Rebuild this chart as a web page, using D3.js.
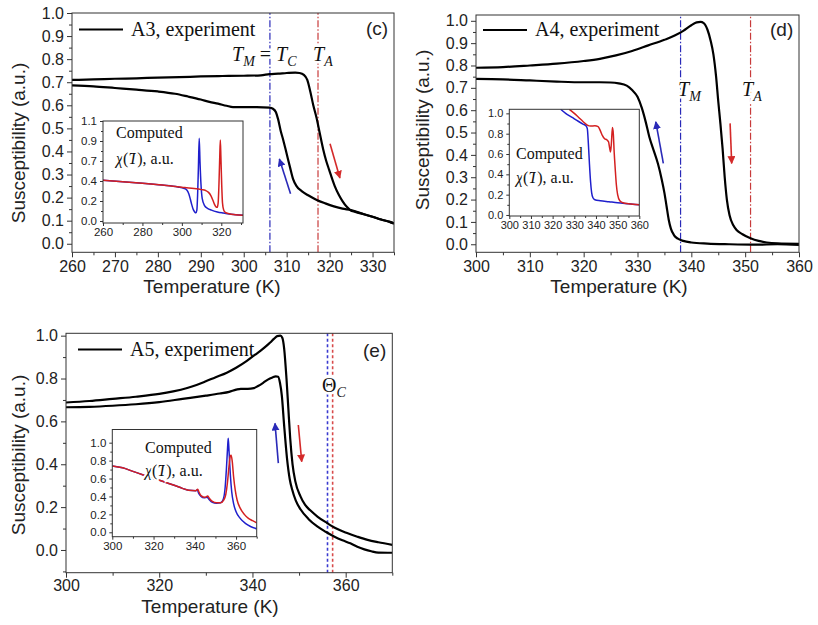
<!DOCTYPE html>
<html><head><meta charset="utf-8">
<script src="https://cdn.jsdelivr.net/npm/d3@7"></script>
<style>
body{margin:0;background:#fff}
svg{display:block}
.tick text{font-family:"Liberation Sans",Arial,sans-serif;fill:#222}
.tick line{stroke:#333}
</style></head><body><svg id="chart" width="818" height="625"></svg>
<script>
// ---- panel (c) A3 ----
var cUpper=[[260,0.71],[265,0.712],[270,0.715],[275,0.717],[280,0.72],[285,0.722],[290,0.725],[295,0.727],[300,0.728],[304,0.73],[306,0.735],[308,0.737],[310,0.74],[312,0.742],[313,0.74],[314,0.732],[314.8,0.71],[315.5,0.66],[316.2,0.6],[316.9,0.55],[317.7,0.48],[318.5,0.41],[319.2,0.36],[319.9,0.32],[321.2,0.25],[322.2,0.21],[323,0.185],[324,0.16],[324.8,0.146],[326,0.138],[328,0.128],[330,0.117],[332,0.105],[334,0.095],[335,0.088]];
var cLower=[[260,0.686],[265,0.682],[270,0.675],[275,0.668],[280,0.66],[284,0.65],[287,0.638],[290,0.625],[292,0.615],[294,0.607],[296,0.598],[297.5,0.592],[300,0.592],[303,0.592],[306,0.59],[306.8,0.585],[307.5,0.57],[308,0.54],[308.6,0.49],[309.2,0.45],[310,0.39],[310.8,0.33],[311.5,0.28],[312.3,0.25],[313.5,0.228],[315,0.21],[317,0.19],[319,0.175],[321,0.162],[323,0.152],[325,0.146],[328,0.128],[330,0.117],[332,0.105],[334,0.095],[335,0.088]];
var cInsetRed=[[260,0.447],[270,0.432],[280,0.415],[290,0.395],[300,0.372],[305,0.36],[310,0.345],[312,0.335],[313.5,0.315],[314.7,0.28],[315.7,0.23],[316.5,0.185],[317.3,0.155],[317.9,0.15],[318.4,0.2],[318.8,0.4],[319.2,0.7],[319.5,0.89],[319.8,0.7],[320.2,0.4],[320.6,0.2],[321.2,0.12],[322,0.095],[324,0.08],[327,0.07],[331,0.062]];
var cInsetBlue=[[260,0.447],[270,0.432],[280,0.415],[290,0.395],[298,0.375],[301,0.36],[302.5,0.34],[303.5,0.3],[304.3,0.24],[305,0.18],[305.8,0.125],[306.5,0.1],[307.1,0.09],[307.6,0.12],[308,0.3],[308.4,0.6],[308.8,0.91],[309.2,0.65],[309.7,0.4],[310.3,0.25],[311.5,0.17],[313,0.14],[315,0.12],[318,0.1],[321,0.088],[325,0.075],[331,0.062]];
var cTM=306.1, cTA=317.3;
var cArrowBlue=[[310.9,0.217],[308.3,0.367]];
var cArrowRed=[[320.1,0.433],[322.4,0.285]];

// ---- panel (d) A4 ----
var dUpper=[[300,0.79],[305,0.793],[310,0.8],[315,0.808],[320,0.82],[323,0.83],[326,0.845],[329,0.865],[332,0.89],[335,0.915],[337,0.935],[338.5,0.955],[340,0.98],[341,0.993],[341.7,0.995],[342.3,0.99],[343,0.96],[343.6,0.91],[344.1,0.85],[344.6,0.75],[345,0.64],[345.4,0.54],[345.8,0.43],[346.2,0.3],[346.6,0.2],[347.1,0.13],[347.8,0.085],[348.4,0.064],[349.5,0.045],[351,0.027],[352.5,0.015],[354,0.008],[356,0.004],[360,0.002]];
var dLower=[[300,0.74],[305,0.738],[310,0.733],[315,0.728],[320,0.725],[323,0.725],[325,0.724],[326.5,0.72],[328,0.71],[329,0.69],[330,0.66],[330.8,0.61],[331.5,0.55],[332.2,0.48],[333,0.42],[333.8,0.36],[334.5,0.29],[335,0.23],[335.4,0.17],[335.8,0.11],[336.2,0.07],[336.8,0.04],[337.5,0.025],[338.5,0.015],[340,0.008],[343,0.003],[347,0.0],[352,-0.002],[356,0],[360,-0.003]];
var dInsetRed=[[327.7,1.04],[330,1.0],[332,0.96],[334,0.92],[336,0.885],[337.5,0.875],[339.5,0.878],[341,0.87],[342,0.83],[343,0.78],[344,0.75],[345,0.74],[345.8,0.72],[346.3,0.66],[346.7,0.62],[347.1,0.7],[347.6,0.86],[348,0.8],[348.4,0.62],[348.9,0.45],[349.4,0.3],[350,0.2],[351,0.14],[352.5,0.12],[355,0.11],[360,0.1]];
var dInsetBlue=[[323.7,1.04],[326,1.0],[329,0.96],[332,0.92],[334,0.895],[335.3,0.88],[336,0.85],[336.5,0.7],[337,0.5],[337.5,0.33],[338,0.22],[338.6,0.17],[339.5,0.15],[342,0.14],[346,0.13],[350,0.12],[355,0.11],[360,0.1]];
var dTM=338.0, dTA=351.0;
var dArrowBlue=[[334.8,0.362],[333.4,0.548]];
var dArrowRed=[[347.2,0.541],[347.5,0.362]];

// ---- panel (e) A5 ----
var eUpper=[[300,0.688],[305,0.695],[310,0.705],[315,0.715],[320,0.728],[323,0.74],[326,0.756],[328,0.77],[330,0.787],[332,0.805],[334.5,0.827],[336.5,0.85],[338.8,0.882],[340.5,0.91],[341.7,0.929],[343,0.952],[343.8,0.968],[344.6,0.985],[345.3,0.998],[346,1.0],[346.4,0.99],[346.8,0.94],[347.3,0.8],[347.7,0.66],[348.1,0.52],[348.6,0.4],[349.2,0.32],[350.3,0.25],[351.3,0.21],[352.4,0.185],[354,0.155],[356,0.126],[358,0.1],[360.3,0.079],[362.5,0.062],[364.7,0.047],[367,0.036],[370,0.024]];
var eLower=[[300,0.666],[305,0.668],[310,0.673],[315,0.68],[320,0.69],[325,0.705],[330,0.72],[333,0.73],[335,0.738],[336.5,0.748],[337.5,0.752],[339,0.752],[340.3,0.755],[341.2,0.765],[342.3,0.78],[343.3,0.795],[344.3,0.805],[345,0.81],[345.5,0.808],[345.9,0.78],[346.3,0.72],[346.8,0.58],[347.4,0.43],[348,0.33],[348.5,0.283],[349.3,0.23],[350.3,0.19],[352,0.145],[353.9,0.11],[355.7,0.085],[357.5,0.063],[359.3,0.045],[361,0.031],[362.5,0.015],[364,0.003],[365.5,-0.006],[367,-0.012],[370,-0.013]];
var eInsetBlue=[[300,0.74],[305,0.72],[310,0.68],[315,0.64],[320,0.6],[325,0.565],[330,0.525],[334,0.49],[337,0.47],[340.5,0.465],[341.2,0.475],[341.8,0.44],[343,0.4],[344.5,0.385],[346,0.39],[346.8,0.37],[348.5,0.335],[350.5,0.325],[352.5,0.33],[353.8,0.37],[354.7,0.5],[355.3,0.7],[355.9,0.95],[356.2,1.05],[356.6,0.9],[357.2,0.65],[357.9,0.45],[358.8,0.32],[360,0.23],[362,0.155],[364.5,0.1],[367,0.065],[370,0.04]];
var eInsetRed=[[300,0.74],[305,0.72],[310,0.68],[315,0.64],[320,0.6],[325,0.565],[330,0.525],[334,0.49],[337,0.47],[340.5,0.465],[341.4,0.48],[342,0.45],[343,0.41],[345,0.39],[346.3,0.405],[347,0.38],[348.5,0.345],[350.5,0.33],[352.5,0.33],[354,0.36],[355,0.42],[355.8,0.55],[356.5,0.72],[357.2,0.85],[357.6,0.86],[358.1,0.8],[358.8,0.62],[359.6,0.47],[360.5,0.36],[362,0.27],[364,0.2],[366,0.155],[368,0.13],[370,0.105]];
var eThetaBlue=356.1, eThetaRed=357.2;
var eArrowBlue=[[345.55,0.405],[344.84,0.591]];
var eArrowRed=[[349.84,0.583],[350.57,0.412]];

// ---- tick values ----
var cXTicks=[260,270,280,290,300,310,320,330], cXMinor=[265,275,285,295,305,315,325,335];
var cYTicks=[0,0.1,0.2,0.3,0.4,0.5,0.6,0.7,0.8,0.9,1.0], cYMinor=[0.05,0.15,0.25,0.35,0.45,0.55,0.65,0.75,0.85,0.95];
var dXTicks=[300,310,320,330,340,350,360], dXMinor=[305,315,325,335,345,355];
var dYTicks=[0,0.1,0.2,0.3,0.4,0.5,0.6,0.7,0.8,0.9,1.0], dYMinor=[0.05,0.15,0.25,0.35,0.45,0.55,0.65,0.75,0.85,0.95];
var eXTicks=[300,320,340,360], eXMinor=[310,330,350,370];
var eYTicks=[0,0.2,0.4,0.6,0.8,1.0], eYMinor=[-0.1,0.1,0.3,0.5,0.7,0.9];
var ciXTicks=[260,280,300,320], ciXMinor=[270,290,310,330];
var ciYTicks=[0,0.22,0.44,0.66,0.88,1.1], ciYMinor=[0.11,0.33,0.55,0.77,0.99];
var diXTicks=[300,310,320,330,340,350,360], diXMinor=[305,315,325,335,345,355];
var diYTicks=[0,0.2,0.4,0.6,0.8,1.0], diYMinor=[0.1,0.3,0.5,0.7,0.9];
var eiXTicks=[300,320,340,360], eiXMinor=[310,330,350,370];
var eiYTicks=[0,0.2,0.4,0.6,0.8,1.0], eiYMinor=[0.1,0.3,0.5,0.7,0.9];

var BLUE="#2a2ab8", RED="#d42a2a";
var svg=d3.select("#chart");
var defs=svg.append("defs");
[["arrBlue",BLUE],["arrRed",RED]].forEach(function(m){
  defs.append("marker").attr("id",m[0]).attr("viewBox","0 0 10 10")
    .attr("refX",9).attr("refY",5).attr("markerWidth",5).attr("markerHeight",5)
    .attr("orient","auto").attr("markerUnits","strokeWidth")
    .append("path").attr("d","M0,0L10,5L0,10z").attr("fill",m[1]);
});

function frame(p){
  var x=d3.scaleLinear().domain(p.xDom).range([p.x0,p.x1]);
  var y=d3.scaleLinear().domain(p.yDom).range([p.y1,p.y0]);
  var g=svg.append("g");
  g.append("rect").attr("x",p.x0).attr("y",p.y0).attr("width",p.x1-p.x0).attr("height",p.y1-p.y0).attr("fill","#fff");
  defs.append("clipPath").attr("id","clip"+p.name).append("rect")
    .attr("x",p.x0).attr("y",p.y0).attr("width",p.x1-p.x0).attr("height",p.y1-p.y0);
  var ax=g.append("g");
  ax.append("g").attr("transform","translate(0,"+p.y1+")")
    .call(d3.axisBottom(x).tickValues(p.xMinor).tickSize(p.minor).tickSizeOuter(0).tickFormat(""));
  ax.append("g").attr("transform","translate(0,"+p.y1+")")
    .call(d3.axisBottom(x).tickValues(p.xTicks).tickSize(p.major).tickSizeOuter(0).tickPadding(p.padX).tickFormat(d3.format("d")));
  ax.append("g").attr("transform","translate("+p.x0+",0)")
    .call(d3.axisLeft(y).tickValues(p.yMinor).tickSize(p.minor).tickSizeOuter(0).tickFormat(""));
  ax.append("g").attr("transform","translate("+p.x0+",0)")
    .call(d3.axisLeft(y).tickValues(p.yTicks).tickSize(p.major).tickSizeOuter(0).tickPadding(p.padY).tickFormat(d3.format(".1f")));
  ax.selectAll(".domain").remove();
  ax.selectAll(".tick text").filter(function(){return this.textContent==="";}).remove();
  ax.selectAll(".tick text").style("font-size",p.fs+"px");
  var body=g.append("g").attr("clip-path","url(#clip"+p.name+")");
  g.append("rect").attr("x",p.x0).attr("y",p.y0).attr("width",p.x1-p.x0).attr("height",p.y1-p.y0)
    .attr("fill","none").attr("stroke","#333").attr("stroke-width",1);
  return {x:x,y:y,g:g,body:body};
}

function curve(f,data,color,w){
  var line=d3.line().x(function(d){return f.x(d[0]);}).y(function(d){return f.y(d[1]);}).curve(d3.curveMonotoneX);
  f.body.append("path").attr("d",line(data)).attr("fill","none").attr("stroke",color)
    .attr("stroke-width",w).attr("stroke-linejoin","round");
}
function vline(f,t,color,dash,w){
  f.body.append("line").attr("x1",f.x(t)).attr("x2",f.x(t)).attr("y1",f.y.range()[0]).attr("y2",f.y.range()[1])
    .attr("stroke",color).attr("stroke-width",w).attr("stroke-dasharray",dash);
}
function arrow(f,pts,color,mk){
  f.g.append("line").attr("x1",f.x(pts[0][0])).attr("y1",f.y(pts[0][1]))
    .attr("x2",f.x(pts[1][0])).attr("y2",f.y(pts[1][1]))
    .attr("stroke",color).attr("stroke-width",1.6).attr("marker-end","url(#"+mk+")");
}
function legend(f,x0,y0,label){
  f.g.append("line").attr("x1",x0).attr("x2",x0+44).attr("y1",y0).attr("y2",y0).attr("stroke","#000").attr("stroke-width",2.2);
  f.g.append("text").attr("x",x0+52).attr("y",y0+6).text(label)
    .style("font-family","'Liberation Serif','Times New Roman',serif").style("font-size","20px").attr("fill","#111");
}
function sans(x0,y0,txt,size,anchor){
  return svg.append("text").attr("x",x0).attr("y",y0).text(txt).attr("text-anchor",anchor||"start")
    .style("font-family","'Liberation Sans',Arial,sans-serif").style("font-size",size+"px").attr("fill","#222");
}
function titles(cx,by,ycx,ycy){
  sans(cx,by,"Temperature (K)",19,"middle");
  sans(0,0,"Susceptibility (a.u.)",19,"middle").attr("transform","translate("+ycx+","+ycy+") rotate(-90)");
}
function computed(x0,y0,y1){
  var t1=svg.append("text").attr("x",x0).attr("y",y0).text("Computed");
  var t2=svg.append("text").attr("x",x0).attr("y",y1);
  t2.append("tspan").style("font-style","italic").text("χ");
  t2.append("tspan").text("(");
  t2.append("tspan").style("font-style","italic").text("T");
  t2.append("tspan").text("), a.u.");
  [t1,t2].forEach(function(t){
    t.style("font-family","'Liberation Serif','Times New Roman',serif").style("font-size","16px").attr("fill","#111")
     .attr("stroke","#fff").attr("stroke-width",4).attr("paint-order","stroke");
  });
}
function tLabel(x0,y0,parts){
  var t=svg.append("text").attr("x",x0).attr("y",y0)
    .style("font-family","'Liberation Serif','Times New Roman',serif").style("font-size","20px").attr("fill","#111")
    .attr("stroke","#fff").attr("stroke-width",5).attr("paint-order","stroke");
  var back=0;
  parts.forEach(function(p){
    t.append("tspan").attr("dy",-back).style("font-style",p[2]?"italic":"normal").text(p[0]);
    back=0;
    if(p[1]){
      t.append("tspan").attr("dy",5).style("font-size","14px").style("font-style","italic").text(p[1]);
      back=5;
    }
  });
  return t;
}

// ===== panel (c) =====
var fc=frame({name:"c",x0:72,x1:394,y0:13,y1:252.3,xDom:[260,335],yDom:[-0.037,1.0],
  xTicks:cXTicks,xMinor:cXMinor,yTicks:cYTicks,yMinor:cYMinor,major:5,minor:3,padX:3,padY:3,fs:16});
vline(fc,cTM,BLUE,"7,2,1.5,2",1.2);
vline(fc,cTA,"#c83a3a","7,2,1.5,2",1.2);
curve(fc,cUpper,"#000",2.2);
curve(fc,cLower,"#000",2.2);
arrow(fc,cArrowBlue,BLUE,"arrBlue");
arrow(fc,cArrowRed,RED,"arrRed");
legend(fc,79,29.5,"A3, experiment");
sans(366,35,"(c)",19);
tLabel(232,61,[["T","M",true],[" = ",null,false],["T","C",true]]);
tLabel(313,61,[["T","A",true]]);
titles(212,293,25,143);

var fci=frame({name:"ci",x0:103,x1:243,y0:121,y1:223,xDom:[260,331],yDom:[-0.022,1.1],
  xTicks:ciXTicks,xMinor:ciXMinor,yTicks:ciYTicks,yMinor:ciYMinor,major:3,minor:2,padX:2,padY:3,fs:11.5});
curve(fci,cInsetBlue,"#1f1fcc",1.5);
curve(fci,cInsetRed,"#d42020",1.5);
computed(116,138,164);

// ===== panel (d) =====
var fd=frame({name:"d",x0:476,x1:799,y0:15,y1:252.3,xDom:[300,360],yDom:[-0.036,1.026],
  xTicks:dXTicks,xMinor:dXMinor,yTicks:dYTicks,yMinor:dYMinor,major:5,minor:3,padX:3,padY:3,fs:16});
vline(fd,dTM,BLUE,"7,2,1.5,2",1.2);
vline(fd,dTA,"#c83a3a","7,2,1.5,2",1.2);
curve(fd,dUpper,"#000",2.2);
curve(fd,dLower,"#000",2.2);
arrow(fd,dArrowBlue,BLUE,"arrBlue");
arrow(fd,dArrowRed,RED,"arrRed");
legend(fd,483,30,"A4, experiment");
sans(770,36,"(d)",19);
tLabel(678,96,[["T","M",true]]);
tLabel(742,96,[["T","A",true]]);
titles(619,293,429,130);

var fdi=frame({name:"di",x0:509.3,x1:639.3,y0:109.3,y1:216,xDom:[300,360],yDom:[-0.01,1.04],
  xTicks:diXTicks,xMinor:diXMinor,yTicks:diYTicks,yMinor:diYMinor,major:3,minor:2,padX:2,padY:3,fs:11});
curve(fdi,dInsetBlue,"#1f1fcc",1.5);
curve(fdi,dInsetRed,"#d42020",1.5);
computed(516,159,183);

// ===== panel (e) =====
var fe=frame({name:"e",x0:66,x1:392.3,y0:333.3,y1:572.7,xDom:[300,370],yDom:[-0.106,1.011],
  xTicks:eXTicks,xMinor:eXMinor,yTicks:eYTicks,yMinor:eYMinor,major:5,minor:3,padX:2,padY:3,fs:16});
vline(fe,eThetaBlue,"#3a3ad0","3,2.5",1.6);
vline(fe,eThetaRed,"#d84a4a","3,2.5",1.6);
curve(fe,eUpper,"#000",2.2);
curve(fe,eLower,"#000",2.2);
arrow(fe,eArrowBlue,BLUE,"arrBlue");
arrow(fe,eArrowRed,RED,"arrRed");
legend(fe,78,349.5,"A5, experiment");
sans(363,357,"(e)",19);
tLabel(322,392,[["Θ","C",false]]);
titles(210,613,25,455);

var fei=frame({name:"ei",x0:112.3,x1:256.7,y0:429.5,y1:536.7,xDom:[300,370],yDom:[-0.049,1.147],
  xTicks:eiXTicks,xMinor:eiXMinor,yTicks:eiYTicks,yMinor:eiYMinor,major:3,minor:2,padX:2,padY:3,fs:11.5});
curve(fei,eInsetBlue,"#1f1fcc",1.5);
curve(fei,eInsetRed,"#d42020",1.5);
computed(145,453,476);
</script></body></html>
